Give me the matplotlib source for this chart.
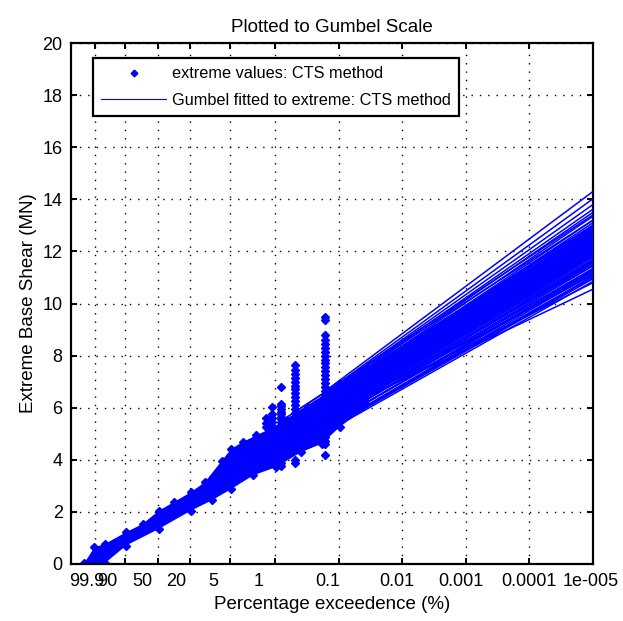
import numpy as np
import matplotlib.pyplot as plt
from matplotlib.transforms import ScaledTranslation, blended_transform_factory

plt.rcParams["font.family"] = ["Liberation Sans", "DejaVu Sans"]

BLUE = (0, 0, 1)

# x axis: percentage exceedence, plotted on the Gumbel reduced variate
pct_labels = ["99.9", "90", "50", "20", "5", "1", "0.1", "0.01", "0.001", "0.0001", "1e-005"]
pct_values = [99.9, 90, 50, 20, 5, 1, 0.1, 0.01, 0.001, 0.0001, 0.00001]
# label shift (px) seen in the original MATLAB render
label_shift_px = [-8, -18, -16, -13, -17, -17, -11, -6, -5, -1, -2]

# dense cloud of extreme values (reduced variate, value in MN)
cloud_top_x = [-2.32, -1.95, -1.57, -0.80, -0.20, 0.39, 0.92, 1.55, 2.05, 2.67, 3.01, 3.42, 3.92, 4.42, 5.04, 5.79, 6.54, 6.94, 7.50, 8.00]
cloud_top_v = [0.03, 0.64, 0.77, 1.22, 1.54, 2.05, 2.37, 2.76, 3.14, 3.97, 4.42, 4.68, 4.94, 5.19, 5.51, 6.03, 6.54, 6.92, 7.30, 7.75]
cloud_bot_x = [-2.32, -1.57, -0.80, 0.39, 1.55, 2.30, 3.01, 3.80, 4.63, 5.54, 6.29, 6.94, 7.50, 8.00]
cloud_bot_v = [0.0, 0.03, 0.71, 1.35, 2.05, 2.44, 2.88, 3.40, 3.72, 4.29, 4.62, 5.26, 5.70, 6.05]

# columns of top-ranked extremes
spike_x = [4.25, 4.50, 4.82, 5.33, 6.39]
spike_v = [
    [5.59, 5.40, 5.25],
    [6.04, 5.76, 5.60, 5.45, 5.30, 5.15],
    [6.81, 6.15, 6.05, 5.95, 5.85, 5.75, 5.65, 5.55, 5.45, 3.87, 3.76],
    [7.63, 7.45, 7.30, 7.15, 7.00, 6.85, 6.70, 6.55, 6.40, 6.25, 6.10, 5.95, 5.80, 5.65, 4.00, 3.88],
    [9.49, 9.37, 8.79, 8.60, 8.45, 8.30, 8.15, 8.00, 7.85, 7.70, 7.55, 7.40, 7.25, 7.10,
     6.95, 6.80, 6.65, 6.50, 4.87, 4.72, 4.62, 4.18],
]

# Gumbel fits: start variate of each group, value at start, value at 1e-005 %
fit_x0 = [6.39, 5.33, 4.82, 4.50]
fit_start = [
    [6.62, 6.55, 6.50, 6.45, 6.40, 6.35, 6.30, 6.28, 6.25, 6.22, 6.20, 6.15, 6.10, 6.05, 6.00, 5.95,
     5.92, 5.90, 5.85, 5.80, 5.78, 5.75, 5.70, 5.65, 5.62, 5.60, 5.55, 5.50, 5.60, 5.60, 5.65, 5.58],
    [5.85, 5.75, 5.70, 5.65, 5.60, 5.55, 5.50, 5.45, 5.40, 5.35, 5.30, 5.25, 5.20, 5.15, 5.10, 5.05,
     5.00, 4.90, 4.80, 4.70, 4.60, 4.50, 4.45],
    [5.50, 5.40, 5.35, 5.30, 5.25, 5.20, 5.15, 5.10, 5.05, 5.00, 4.95, 4.90, 4.85, 4.80, 4.70, 4.60,
     4.50, 4.40, 4.30, 4.20],
    [5.20, 5.10, 5.05, 5.00, 4.95, 4.90, 4.85, 4.80, 4.75, 4.70, 4.65, 4.60, 4.55, 4.50, 4.40, 4.30,
     4.20, 4.10, 4.00, 3.90],
]
fit_end = [
    [14.30, 14.02, 13.80, 13.62, 13.50, 13.35, 13.20, 13.10, 13.00, 12.92, 12.85, 12.75, 12.68, 12.60, 12.52, 12.45,
     12.38, 12.30, 12.22, 12.15, 12.08, 12.00, 11.92, 11.85, 11.78, 11.70, 11.60, 11.50, 11.10, 10.80, 10.55, 11.30],
    [13.40, 13.00, 12.85, 12.75, 12.65, 12.58, 12.50, 12.45, 12.40, 12.32, 12.25, 12.20, 12.15, 12.10, 12.05, 11.98,
     11.90, 11.80, 11.65, 11.45, 11.30, 11.15, 10.95],
    [13.20, 12.95, 12.85, 12.75, 12.68, 12.60, 12.52, 12.45, 12.38, 12.30, 12.25, 12.20, 12.12, 12.05, 11.95, 11.80,
     11.60, 11.45, 11.25, 11.05],
    [13.00, 12.80, 12.70, 12.60, 12.52, 12.45, 12.38, 12.30, 12.22, 12.15, 12.08, 12.00, 11.92, 11.85, 11.70, 11.55,
     11.35, 11.20, 11.00, 10.85],
]


def gumbel_variate(pct):
    p = np.asarray(pct, dtype=float) / 100.0
    return -np.log(-np.log1p(-p))


xt = gumbel_variate(pct_values)
x_end = xt[-1]

fig = plt.figure(figsize=(6.23, 6.21), dpi=100)
ax = fig.add_axes([71 / 623, 1 - 564 / 621, 522 / 623, 521 / 621])

# cloud of extreme values
poly_x = np.r_[cloud_top_x, cloud_bot_x[::-1]]
poly_v = np.r_[cloud_top_v, cloud_bot_v[::-1]]
ax.fill(poly_x, poly_v, color=BLUE, lw=0, zorder=2)
ax.plot(cloud_top_x[:-2], cloud_top_v[:-2], "D", color=BLUE, ms=3.8, zorder=2)
ax.plot(cloud_bot_x[:-2], cloud_bot_v[:-2], "D", color=BLUE, ms=3.8, zorder=2)
for sx, vals in zip(spike_x, spike_v):
    ax.plot([sx] * len(vals), vals, "D", color=BLUE, ms=3.8, zorder=3)

# fitted lines
for x0, starts, ends in zip(fit_x0, fit_start, fit_end):
    for s, e in zip(starts, ends):
        ax.plot([x0, x_end], [s, e], "-", color=BLUE, lw=1.1, zorder=3)

# legend proxies
h_pts, = ax.plot([], [], "D", color=BLUE, ms=3.4)
h_line, = ax.plot([], [], "-", color=BLUE, lw=0.8)

ax.set_xlim(-2.8, x_end)
ax.set_ylim(0, 20)
ax.set_xticks(xt)
ax.set_xticklabels([])
ax.set_yticks(np.arange(0, 21, 2))

# x tick labels drawn as text so the MATLAB offset can be kept
trans = blended_transform_factory(ax.transData, ax.transAxes)
for x, lab, dx in zip(xt, pct_labels, label_shift_px):
    ax.text(x, 0, lab, fontsize=13, ha="center", va="top", clip_on=False,
            transform=trans + ScaledTranslation(dx / 100, -0.085, fig.dpi_scale_trans))

ax.grid(True, color="k", lw=1.0, linestyle=(0, (1, 5)))
ax.set_axisbelow(True)
ax.tick_params(direction="in", length=4, width=1.4, top=True, right=True,
               labelsize=13, pad=6, colors="k")
for sp in ax.spines.values():
    sp.set_linewidth(1.6)

ax.set_xlabel("Percentage exceedence (%)", fontsize=13.5)
ax.xaxis.set_label_coords(0.5, -0.062)
ax.set_ylabel("Extreme Base Shear (MN)", fontsize=13.5, labelpad=4)
ax.set_title("Plotted to Gumbel Scale", fontsize=13.5, pad=8)

leg = ax.legend([h_pts, h_line],
                ["extreme values: CTS method", "Gumbel fitted to extreme: CTS method"],
                loc="upper left", bbox_to_anchor=(0.042, 0.971), borderaxespad=0,
                fontsize=11.7, handlelength=4.0, handletextpad=0.35, borderpad=0.5,
                labelspacing=0.72, fancybox=False, framealpha=1, edgecolor="k")
leg.get_frame().set_linewidth(1.6)

fig.savefig("out.png", dpi=100)
